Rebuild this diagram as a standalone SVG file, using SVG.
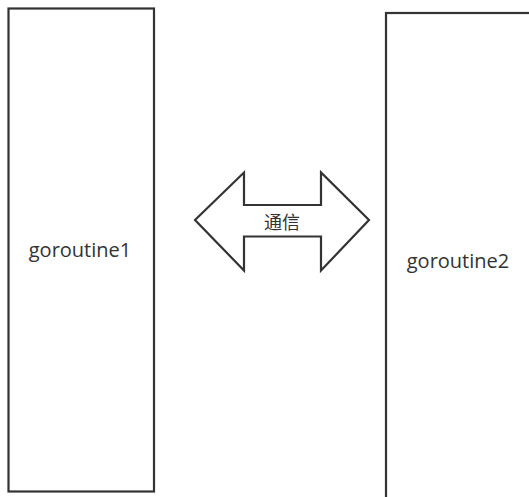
<svg xmlns="http://www.w3.org/2000/svg" width="529" height="497" viewBox="0 0 529 497">
  <style>
    .box { fill: #ffffff; stroke: #333333; stroke-width: 2.2; }
    .label { font-family: "Open Sans", "Noto Sans CJK SC", sans-serif; font-size: 20px; fill: #333333; text-anchor: middle; }
    .cjk { font-family: "Noto Sans CJK SC", sans-serif; font-size: 18px; fill: #333333; text-anchor: middle; }
  </style>
  <rect width="529" height="497" fill="#ffffff"/>
  <g id="goroutine1">
    <rect class="box" x="8.5" y="8.5" width="145.5" height="483"/>
    <text class="label" x="80" y="257">goroutine1</text>
  </g>
  <g id="goroutine2">
    <rect class="box" x="386" y="13" width="160" height="500"/>
    <text class="label" x="458" y="268">goroutine2</text>
  </g>
  <g id="connectors">
    <path class="box" d="M195,220 L244,172.5 L244,205 L321,205 L321,172.5 L369,220 L321,270.5 L321,236.5 L244,236.5 L244,270.5 Z"/>
    <text class="cjk" x="282" y="229">通信</text>
  </g>
</svg>
